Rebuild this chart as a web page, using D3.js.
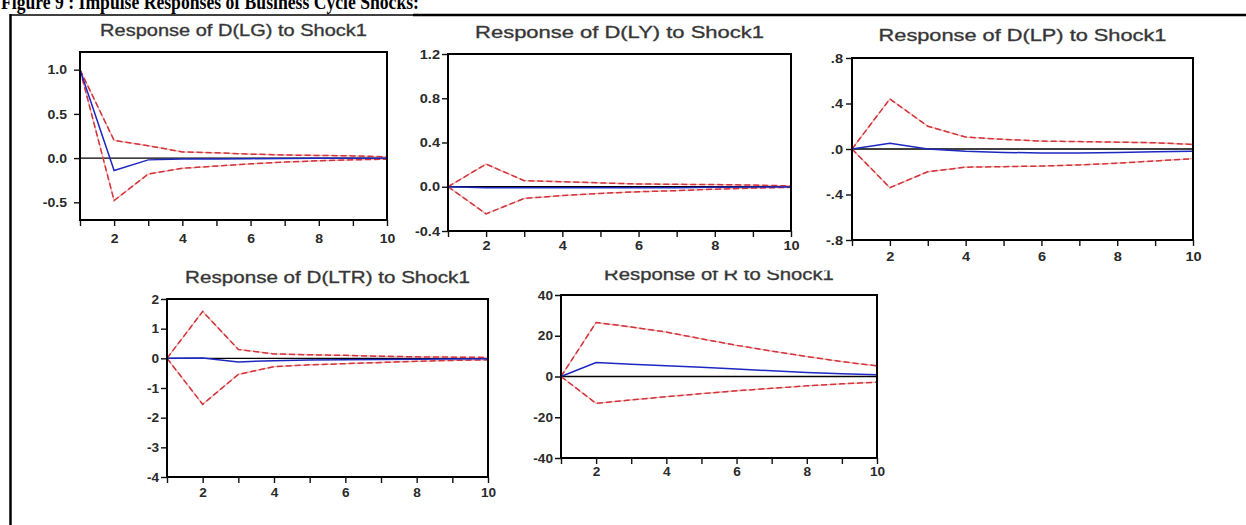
<!DOCTYPE html>
<meta charset="utf-8">
<style>
body { margin: 0; background: #fff; }
.tick line { stroke: #111; stroke-width: 1.4; }
.ptitle { font: 16px "Liberation Sans", Arial, sans-serif; fill: #333; stroke: #444; stroke-width: 0.35; }
.header { font: bold 22px "Liberation Serif", "Times New Roman", serif; fill: #000; }
</style>
<svg width="1246" height="525"></svg>
<script src="https://d3js.org/d3.v7.min.js"></script>
<script>

// horizon (periods after the shock)
var periods = [1, 2, 3, 4, 5, 6, 7, 8, 9, 10];
var xTickLabels = ["", "2", "", "4", "", "6", "", "8", "", "10"];

// D(LG)
var lgResp  = [1.0, -0.14, -0.02, -0.01, -0.01, -0.006, -0.005, -0.003, -0.002, -0.001];
var lgUpper = [1.0, 0.20, 0.14, 0.07, 0.06, 0.045, 0.035, 0.03, 0.025, 0.015];
var lgLower = [1.0, -0.48, -0.18, -0.115, -0.09, -0.065, -0.045, -0.03, -0.02, -0.012];
var lgTicks = [-0.5, 0, 0.5, 1.0];
var lgTickLabels = ["-0.5", "0.0", "0.5", "1.0"];

// D(LY)
var lyResp  = [0, -0.01, -0.01, -0.01, -0.01, -0.01, -0.008, -0.005, -0.003, -0.002];
var lyUpper = [0, 0.205, 0.055, 0.045, 0.035, 0.025, 0.022, 0.02, 0.015, 0.008];
var lyLower = [0, -0.245, -0.105, -0.08, -0.06, -0.045, -0.035, -0.022, -0.012, -0.005];
var lyTicks = [-0.4, 0, 0.4, 0.8, 1.2];
var lyTickLabels = ["-0.4", "0.0", "0.4", "0.8", "1.2"];

// D(LP)
var lpResp  = [0, 0.05, 0.0, -0.02, -0.03, -0.035, -0.035, -0.03, -0.025, -0.02];
var lpUpper = [0, 0.44, 0.20, 0.105, 0.085, 0.07, 0.065, 0.06, 0.055, 0.04];
var lpLower = [0, -0.34, -0.20, -0.16, -0.155, -0.15, -0.14, -0.125, -0.105, -0.085];
var lpTicks = [-0.8, -0.4, 0, 0.4, 0.8];
var lpTickLabels = ["-.8", "-.4", ".0", ".4", ".8"];

// D(LTR)
var ltrResp  = [0, 0.01, -0.12, -0.08, -0.06, -0.05, -0.04, -0.03, -0.02, -0.01];
var ltrUpper = [0, 1.58, 0.30, 0.15, 0.12, 0.10, 0.07, 0.05, 0.04, 0.03];
var ltrLower = [0, -1.55, -0.54, -0.28, -0.22, -0.18, -0.14, -0.10, -0.07, -0.05];
var ltrTicks = [-4, -3, -2, -1, 0, 1, 2];
var ltrTickLabels = ["-4", "-3", "-2", "-1", "0", "1", "2"];

// R
var rResp  = [0, 6.9, 6.0, 5.3, 4.5, 3.7, 2.8, 2.0, 1.3, 0.8];
var rUpper = [0, 26.5, 24.3, 21.8, 18.5, 15.3, 12.5, 9.8, 7.3, 5.2];
var rLower = [0, -13.2, -11.5, -9.9, -8.4, -7.0, -5.8, -4.6, -3.6, -2.8];
var rTicks = [-40, -20, 0, 20, 40];
var rTickLabels = ["-40", "-20", "0", "20", "40"];

var panels = [
	{title: "Response of D(LG) to Shock1", resp: lgResp, upper: lgUpper, lower: lgLower,
	 ticks: lgTicks, tickLabels: lgTickLabels, domain: [-0.7, 1.2],
	 box: [80, 52, 387, 220], titleY: 36.5, titleW: 267, sx: 1.08, yPad: 7, xPad: 8},
	{title: "Response of D(LY) to Shock1", resp: lyResp, upper: lyUpper, lower: lyLower,
	 ticks: lyTicks, tickLabels: lyTickLabels, domain: [-0.4, 1.2],
	 box: [448, 54, 791, 231], titleY: 38.3, titleW: 289, sx: 1.12, yPad: 2, xPad: 4,
	 clip: [413, 0, 900, 300]},
	{title: "Response of D(LP) to Shock1", resp: lpResp, upper: lpUpper, lower: lpLower,
	 ticks: lpTicks, tickLabels: lpTickLabels, domain: [-0.8, 0.8],
	 box: [852, 58, 1193, 240], titleY: 41.5, titleW: 288, sx: 1.12, yPad: 3, xPad: 6},
	{title: "Response of D(LTR) to Shock1", resp: ltrResp, upper: ltrUpper, lower: ltrLower,
	 ticks: ltrTicks, tickLabels: ltrTickLabels, domain: [-4, 2],
	 box: [167, 299, 488, 477], titleY: 283, titleW: 285, sx: 1.05, yPad: 2, xPad: 5},
	{title: "Response of R to Shock1", resp: rResp, upper: rUpper, lower: rLower,
	 ticks: rTicks, tickLabels: rTickLabels, domain: [-40, 40],
	 box: [561, 295, 877, 458], titleY: 280, titleW: 230, sx: 1.05, yPad: 2, xPad: 3,
	 clip: [500, 270.5, 420, 250]}
];

var svg = d3.select("svg");

// page heading, cut at the top as in the scan
svg.append("text")
	.attr("class", "header")
	.attr("x", 1)
	.attr("y", 9)
	.attr("textLength", 418)
	.attr("lengthAdjust", "spacingAndGlyphs")
	.text("Figure 9 : Impulse Responses of Business Cycle Shocks:");

// box round the figure
svg.append("line").attr("x1", 10).attr("x2", 413).attr("y1", 15).attr("y2", 15)
	.attr("stroke", "#000").attr("stroke-width", 1.6);
svg.append("line").attr("x1", 413).attr("x2", 1246).attr("y1", 15).attr("y2", 15)
	.attr("stroke", "#000").attr("stroke-width", 2.4);
svg.append("line").attr("x1", 10.5).attr("x2", 10.5).attr("y1", 14).attr("y2", 525)
	.attr("stroke", "#000").attr("stroke-width", 2.5);

// tick labels: bigger, bold, and widened like the scan
function styleTicks(sel, sx) {
	sel.attr("font-size", 13)
		.attr("font-weight", "bold")
		.attr("font-family", "'Liberation Sans', Arial, sans-serif")
		.attr("fill", "#2a2a2a")
		.each(function() {
			var t = d3.select(this);
			var x0 = +t.attr("x") || 0;
			t.attr("x", x0 / sx).attr("transform", "scale(" + sx + ",1)");
		});
}

panels.forEach(function(p, k) {
	var g = svg.append("g");
	if (p.clip) {
		svg.append("clipPath").attr("id", "clip" + k)
			.append("rect")
			.attr("x", p.clip[0]).attr("y", p.clip[1])
			.attr("width", p.clip[2]).attr("height", p.clip[3]);
		g.attr("clip-path", "url(#clip" + k + ")");
	}

	var x = d3.scaleLinear().domain([1, 10]).range([p.box[0], p.box[2]]);
	var y = d3.scaleLinear().domain(p.domain).range([p.box[3], p.box[1]]);

	var line = d3.line()
		.x(function(d, i) { return x(periods[i]); })
		.y(function(d) { return y(d); });

	// zero line
	g.append("line")
		.attr("x1", p.box[0]).attr("x2", p.box[2])
		.attr("y1", y(0)).attr("y2", y(0))
		.attr("stroke", "#000").attr("stroke-width", 1.3);

	// +/- 2 s.e. bands
	[p.upper, p.lower].forEach(function(band) {
		g.append("path")
			.attr("d", line(band))
			.attr("fill", "none")
			.attr("stroke", "#f4b0b0")
			.attr("stroke-width", 1.3);
		g.append("path")
			.attr("d", line(band))
			.attr("fill", "none")
			.attr("stroke", "#d0343a")
			.attr("stroke-width", 1.5)
			.attr("stroke-dasharray", "6,3");
	});

	// response
	g.append("path")
		.attr("d", line(p.resp))
		.attr("fill", "none")
		.attr("stroke", "#1c28c0")
		.attr("stroke-width", 1.5);

	// frame
	g.append("rect")
		.attr("x", p.box[0]).attr("y", p.box[1])
		.attr("width", p.box[2] - p.box[0]).attr("height", p.box[3] - p.box[1])
		.attr("fill", "none")
		.attr("stroke", "#000")
		.attr("stroke-width", 2);

	var yAxis = g.append("g")
		.attr("transform", "translate(" + p.box[0] + ",0)")
		.call(d3.axisLeft(y)
			.tickValues(p.ticks)
			.tickFormat(function(d, i) { return p.tickLabels[i]; })
			.tickSize(6)
			.tickPadding(p.yPad));
	yAxis.select(".domain").remove();
	styleTicks(yAxis.selectAll("text"), p.sx);

	var xAxis = g.append("g")
		.attr("transform", "translate(0," + p.box[3] + ")")
		.call(d3.axisBottom(x)
			.tickValues(periods)
			.tickFormat(function(d, i) { return xTickLabels[i]; })
			.tickSize(6)
			.tickPadding(p.xPad));
	xAxis.select(".domain").remove();
	styleTicks(xAxis.selectAll("text"), p.sx);

	// title, widened like the scanned figure
	var title = g.append("text")
		.attr("class", "ptitle")
		.attr("text-anchor", "middle")
		.text(p.title);
	var natural = title.node().getComputedTextLength();
	var tsx = p.titleW / natural;
	title.attr("x", ((p.box[0] + p.box[2]) / 2) / tsx)
		.attr("y", p.titleY)
		.attr("transform", "scale(" + tsx + ",1)");
});

</script>
